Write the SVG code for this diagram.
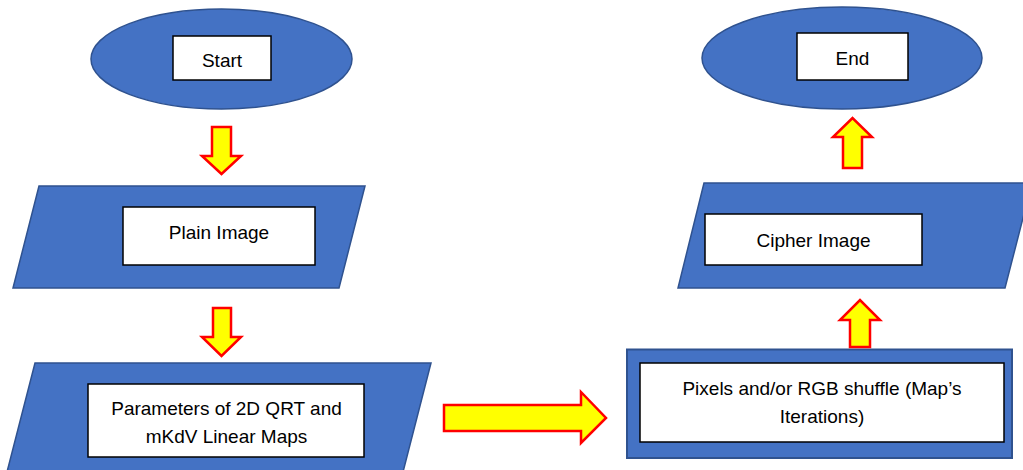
<svg xmlns="http://www.w3.org/2000/svg" width="1023" height="470" viewBox="0 0 1023 470">
<style>
.shape{fill:#4472C4;stroke:#2F528F;stroke-width:1.5}
.box{fill:#FFFFFF;stroke:#000000;stroke-width:1.5}
.arrow{fill:#FFFF00;stroke:#FF0000;stroke-width:2.5;stroke-linejoin:miter}
.t{font-family:"Liberation Sans",Arial,sans-serif;font-size:19px;fill:#000000;text-anchor:middle}
</style>
<rect width="1023" height="470" fill="#FFFFFF"/>
<g id="start">
<ellipse class="shape" cx="221.5" cy="59" rx="130.5" ry="50"/>
<rect class="box" x="173" y="36" width="98" height="44"/>
<text class="t" x="222" y="66.5">Start</text>
</g>
<g id="plain-image">
<polygon class="shape" points="39,186 365,186 339,288 13,288"/>
<rect class="box" x="123" y="207" width="192" height="58"/>
<text class="t" x="219" y="239">Plain Image</text>
</g>
<g id="parameters">
<polygon class="shape" points="35,363 431,363 403,472 7,472"/>
<rect class="box" x="88" y="384" width="276" height="73"/>
<text class="t" x="226.5" y="415">Parameters of 2D QRT and</text>
<text class="t" x="226.5" y="443">mKdV Linear Maps</text>
</g>
<g id="shuffle">
<rect class="shape" x="627" y="349.5" width="385" height="108.5" style="stroke-width:2"/>
<rect class="box" x="640" y="363" width="364" height="79"/>
<text class="t" x="822" y="395">Pixels and/or RGB shuffle (Map’s</text>
<text class="t" x="822" y="423">Iterations)</text>
</g>
<g id="cipher-image">
<polygon class="shape" points="704,183 1032,183 1005,288 678,288"/>
<rect class="box" x="705" y="214" width="217" height="51"/>
<text class="t" x="813.5" y="247">Cipher Image</text>
</g>
<g id="end">
<ellipse class="shape" cx="842" cy="58" rx="140" ry="51"/>
<rect class="box" x="797" y="33" width="111" height="47"/>
<text class="t" x="852.5" y="65">End</text>
</g>
<g id="connectors">
<polygon class="arrow" points="212,127 231,127 231,156 241,156 221.5,174 202,156 212,156"/>
<polygon class="arrow" points="213,308 231,308 231,337 241,337 221.5,356 202,337 213,337"/>
<polygon class="arrow" points="444,405 581,405 581,392 606,418 581,443 581,431 444,431"/>
<polygon class="arrow" points="850,347 870,347 870,320 880,320 860,300 840,320 850,320"/>
<polygon class="arrow" points="843,168 862,168 862,137 872,137 852.5,118 833,137 843,137"/>
</g>
</svg>
